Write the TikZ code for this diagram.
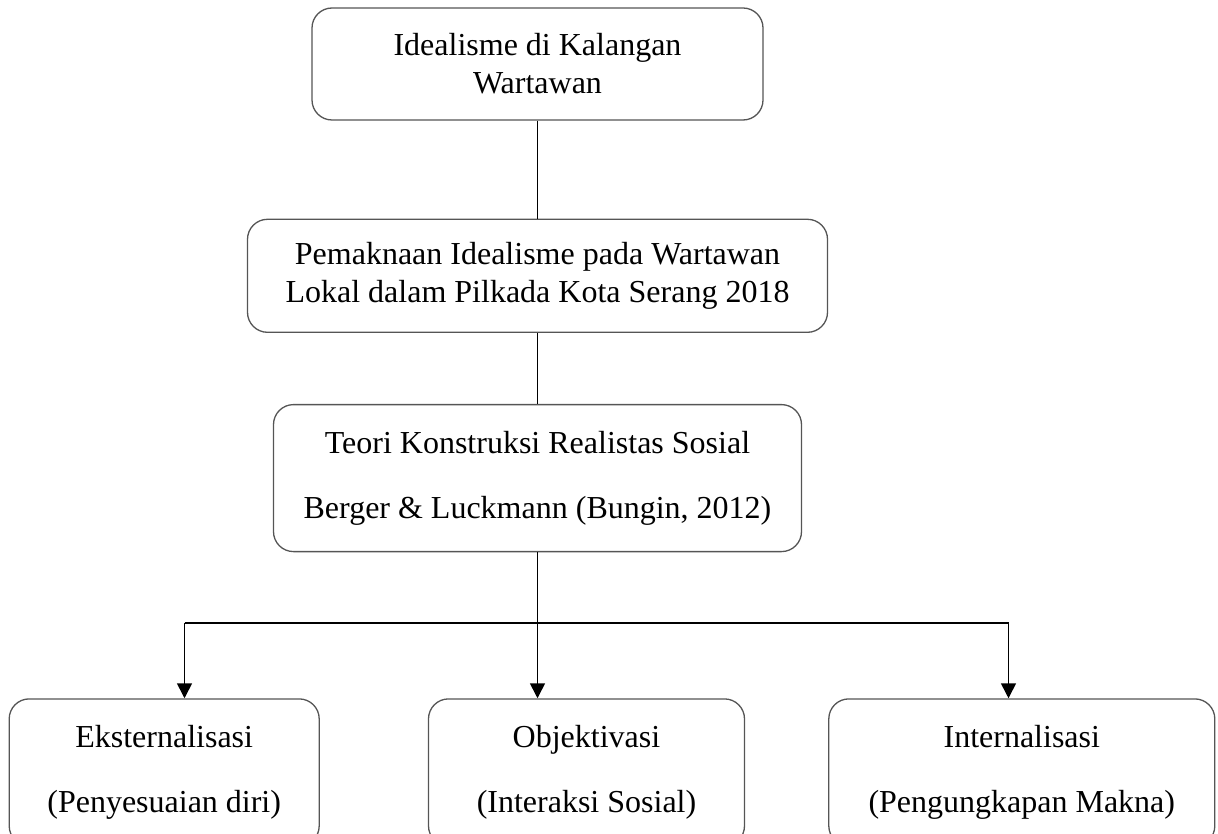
\documentclass[tikz,border=0pt]{standalone}
\usepackage{fontspec}
\setmainfont{Liberation Serif}
\usepackage{xcolor}
\usepackage{tikz}
\usetikzlibrary{arrows.meta,positioning}
\definecolor{border}{HTML}{555555}
\definecolor{ink}{HTML}{000000}
\tikzset{
  nodebox/.style={draw=border, line width=1.3pt, rounded corners=20pt, align=center, text=ink,
    font=\fontsize{32}{38}\selectfont, inner sep=0pt},
  widebox/.style={nodebox, font=\fontsize{32}{65}\selectfont},
  link/.style={line width=1.6pt, draw=ink},
  arr/.style={-{Triangle[length=15pt,width=15pt]}, line width=1.6pt, draw=ink}
}

\begin{document}
\begin{tikzpicture}[node distance=98pt and 100pt]
  \clip (0pt,0pt) rectangle (1218pt,-834pt);

  \node[nodebox, minimum width=451pt, minimum height=112pt] (ideal) at (537.5pt,-64pt)
    {Idealisme di Kalangan\\Wartawan};
  \node[nodebox, minimum width=580pt, minimum height=113pt, below=98pt of ideal] (makna)
    {Pemaknaan Idealisme pada Wartawan\\Lokal dalam Pilkada Kota Serang 2018};
  \node[widebox, minimum width=528pt, minimum height=147pt, below=71pt of makna] (teori)
    {Teori Konstruksi Realistas Sosial\\Berger \& Luckmann (Bungin, 2012)};

  \node[widebox, minimum width=316pt, minimum height=147pt, below=146pt of teori, xshift=49pt] (obj)
    {Objektivasi\\(Interaksi Sosial)};
  \node[widebox, minimum width=310pt, minimum height=147pt, left=108pt of obj] (eks)
    {Eksternalisasi\\(Penyesuaian diri)};
  \node[widebox, minimum width=386pt, minimum height=147pt, right=83pt of obj] (intr)
    {Internalisasi\\(Pengungkapan Makna)};

  \coordinate[below=71pt of teori] (hub);
  \coordinate[left=353pt of hub] (busL);
  \coordinate[right=471pt of hub] (busR);

  \draw[link] (ideal) -- (makna);
  \draw[link] (makna) -- (teori);
  \draw[link] (busL) -- (busR);
  \draw[arr] (teori.south) -- (teori.south |- obj.north);
  \draw[arr] (busL) -- (busL |- eks.north);
  \draw[arr] (busR) -- (busR |- intr.north);
\end{tikzpicture}
\end{document}
